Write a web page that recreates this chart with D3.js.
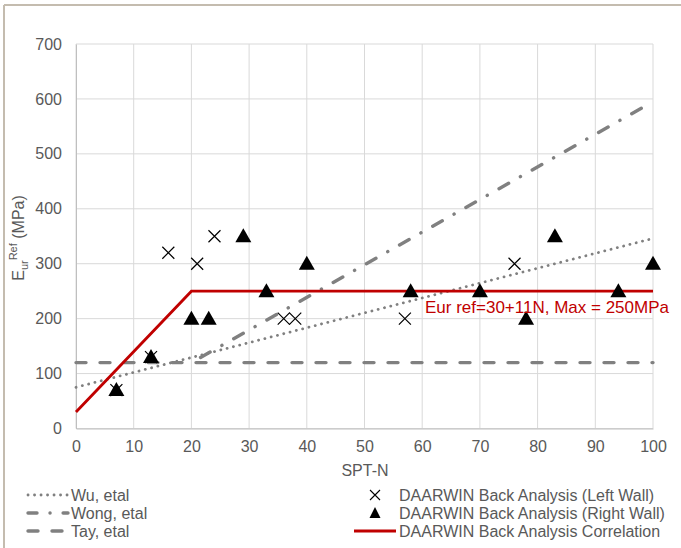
<!DOCTYPE html>
<html>
<head>
<meta charset="utf-8">
<script src="https://cdn.jsdelivr.net/npm/d3@7"></script>
<style>
body { margin:0; background:#fff; }
svg text { font-family: "Liberation Sans", Arial, sans-serif; }
</style>
</head>
<body>
<svg id="chart"></svg>
<script>
var width = 681;
var height = 548;

// data
var xTicks = [0,10,20,30,40,50,60,70,80,90,100];
var yTicks = [0,100,200,300,400,500,600,700];
var wuLine = [[0,75],[100,346]];
var wongLine = [[20,120],[100,595]];
var tayLine = [[0,120],[100,120]];
var corrLine = [[0,30],[20,250],[100,250]];
var leftWall = [[7,70],[13,130],[16,320],[21,300],[24,350],[36,200],[38,200],[57,200],[76,300]];
var rightWall = [[7,70],[13,130],[20,200],[23,200],[29,350],[33,250],[40,300],[58,250],[70,250],[78,200],[83,350],[94,250],[100,300]];
var corrLabel = "Eur ref=30+11N, Max = 250MPa";

var svg = d3.select("#chart").attr("width", width).attr("height", height);

// outer frame (top & left visible)
svg.append("line").attr("x1",4).attr("y1",5).attr("x2",width).attr("y2",5)
    .attr("stroke","#c4bcaf").attr("stroke-width",2);
svg.append("line").attr("x1",4).attr("y1",5).attr("x2",4).attr("y2",height)
    .attr("stroke","#c4bcaf").attr("stroke-width",2);

var x = d3.scaleLinear().domain([0,100]).range([76,653]);
var y = d3.scaleLinear().domain([0,700]).range([428.5,44]);

// gridlines
svg.append("g").selectAll("line").data(xTicks).enter().append("line")
    .attr("x1",function(d){return x(d);}).attr("x2",function(d){return x(d);})
    .attr("y1",y(0)).attr("y2",y(700))
    .attr("stroke","#d9d9d9").attr("stroke-width",1);
svg.append("g").selectAll("line").data(yTicks).enter().append("line")
    .attr("x1",x(0)).attr("x2",x(100))
    .attr("y1",function(d){return y(d);}).attr("y2",function(d){return y(d);})
    .attr("stroke","#d9d9d9").attr("stroke-width",1);

// axes
var xAxis = svg.append("g").attr("transform","translate(0," + y(0) + ")")
    .call(d3.axisBottom(x).tickValues(xTicks).tickSize(0).tickPadding(12));
xAxis.select(".domain").attr("stroke","#bfbfbf");
xAxis.selectAll("text").attr("fill","#595959").style("font-size","16px");

var yAxis = svg.append("g").attr("transform","translate(" + x(0) + ",0)")
    .call(d3.axisLeft(y).tickValues(yTicks).tickSize(0).tickPadding(14));
yAxis.select(".domain").attr("stroke","#bfbfbf");
yAxis.selectAll("text").attr("fill","#595959").style("font-size","16px");

// axis titles
svg.append("text").attr("x",365).attr("y",476).attr("text-anchor","middle")
    .attr("fill","#595959").style("font-size","16px").text("SPT-N");

var yt = svg.append("text").attr("transform","translate(24,238) rotate(-90)")
    .attr("text-anchor","middle").attr("fill","#595959").style("font-size","16px");
yt.append("tspan").text("E");
yt.append("tspan").attr("dy",4).style("font-size","11px").text("ur");
yt.append("tspan").attr("dy",-11).style("font-size","11px").text("Ref");
yt.append("tspan").attr("dy",7).text(" (MPa)");

var line = d3.line().x(function(d){return x(d[0]);}).y(function(d){return y(d[1]);});

// reference lines
svg.append("path").datum(tayLine).attr("d",line).attr("fill","none")
    .attr("stroke","#808080").attr("stroke-width",3.4).attr("stroke-linecap","round")
    .attr("stroke-dasharray","10,14");
svg.append("path").datum(wongLine).attr("d",line).attr("fill","none")
    .attr("stroke","#808080").attr("stroke-width",3.4).attr("stroke-linecap","round")
    .attr("stroke-dasharray","11,13.5,0.1,13.5").attr("stroke-dashoffset",27.6);
svg.append("path").datum(wuLine).attr("d",line).attr("fill","none")
    .attr("stroke","#808080").attr("stroke-width",2.8).attr("stroke-linecap","round")
    .attr("stroke-dasharray","0.1,6.4");
svg.append("path").datum(corrLine).attr("d",line).attr("fill","none")
    .attr("stroke","#c00000").attr("stroke-width",2.8);

// markers
var crossPath = "M-6,-6L6,6M-6,6L6,-6";
svg.append("g").selectAll("path").data(leftWall).enter().append("path")
    .attr("transform",function(d){return "translate(" + x(d[0]) + "," + y(d[1]) + ")";})
    .attr("d",crossPath).attr("stroke","#000").attr("stroke-width",1.2).attr("fill","none");

var triPath = "M0,-8L8,6L-8,6Z";
svg.append("g").selectAll("path").data(rightWall).enter().append("path")
    .attr("transform",function(d){return "translate(" + x(d[0]) + "," + y(d[1]) + ")";})
    .attr("d",triPath).attr("fill","#000");

// correlation label
svg.append("text").attr("x",425).attr("y",313).attr("fill","#c00000")
    .style("font-size","17px").text(corrLabel);

// legend
var legLeft = [
    {name:"Wu, etal", dash:"0.1,6.4", w:2.8},
    {name:"Wong, etal", dash:"9,13,0.1,13", w:3.4},
    {name:"Tay, etal", dash:"10,14", w:3.4}
];
var legRight = [
    {name:"DAARWIN Back Analysis (Left Wall)", type:"cross"},
    {name:"DAARWIN Back Analysis (Right Wall)", type:"tri"},
    {name:"DAARWIN Back Analysis Correlation", type:"line"}
];
var rowY = [495,513,531];

legLeft.forEach(function(d,i){
    svg.append("line").attr("x1",28).attr("x2",68).attr("y1",rowY[i]).attr("y2",rowY[i])
        .attr("stroke","#808080").attr("stroke-width",d.w).attr("stroke-linecap","round")
        .attr("stroke-dasharray",d.dash);
    svg.append("text").attr("x",71).attr("y",rowY[i]+6).attr("fill","#595959")
        .style("font-size","16px").text(d.name);
});
legRight.forEach(function(d,i){
    var cy = rowY[i];
    if (d.type=="cross") {
        svg.append("path").attr("transform","translate(375," + cy + ")")
            .attr("d","M-5,-5L5,5M-5,5L5,-5").attr("stroke","#000").attr("stroke-width",1.1);
    } else if (d.type=="tri") {
        svg.append("path").attr("transform","translate(375," + cy + ")")
            .attr("d","M0,-6L5.5,5L-5.5,5Z").attr("fill","#000");
    } else {
        svg.append("line").attr("x1",354).attr("x2",396).attr("y1",cy).attr("y2",cy)
            .attr("stroke","#c00000").attr("stroke-width",2.8);
    }
    svg.append("text").attr("x",399).attr("y",cy+6).attr("fill","#595959")
        .style("font-size","16px").text(d.name);
});
</script>
</body>
</html>
